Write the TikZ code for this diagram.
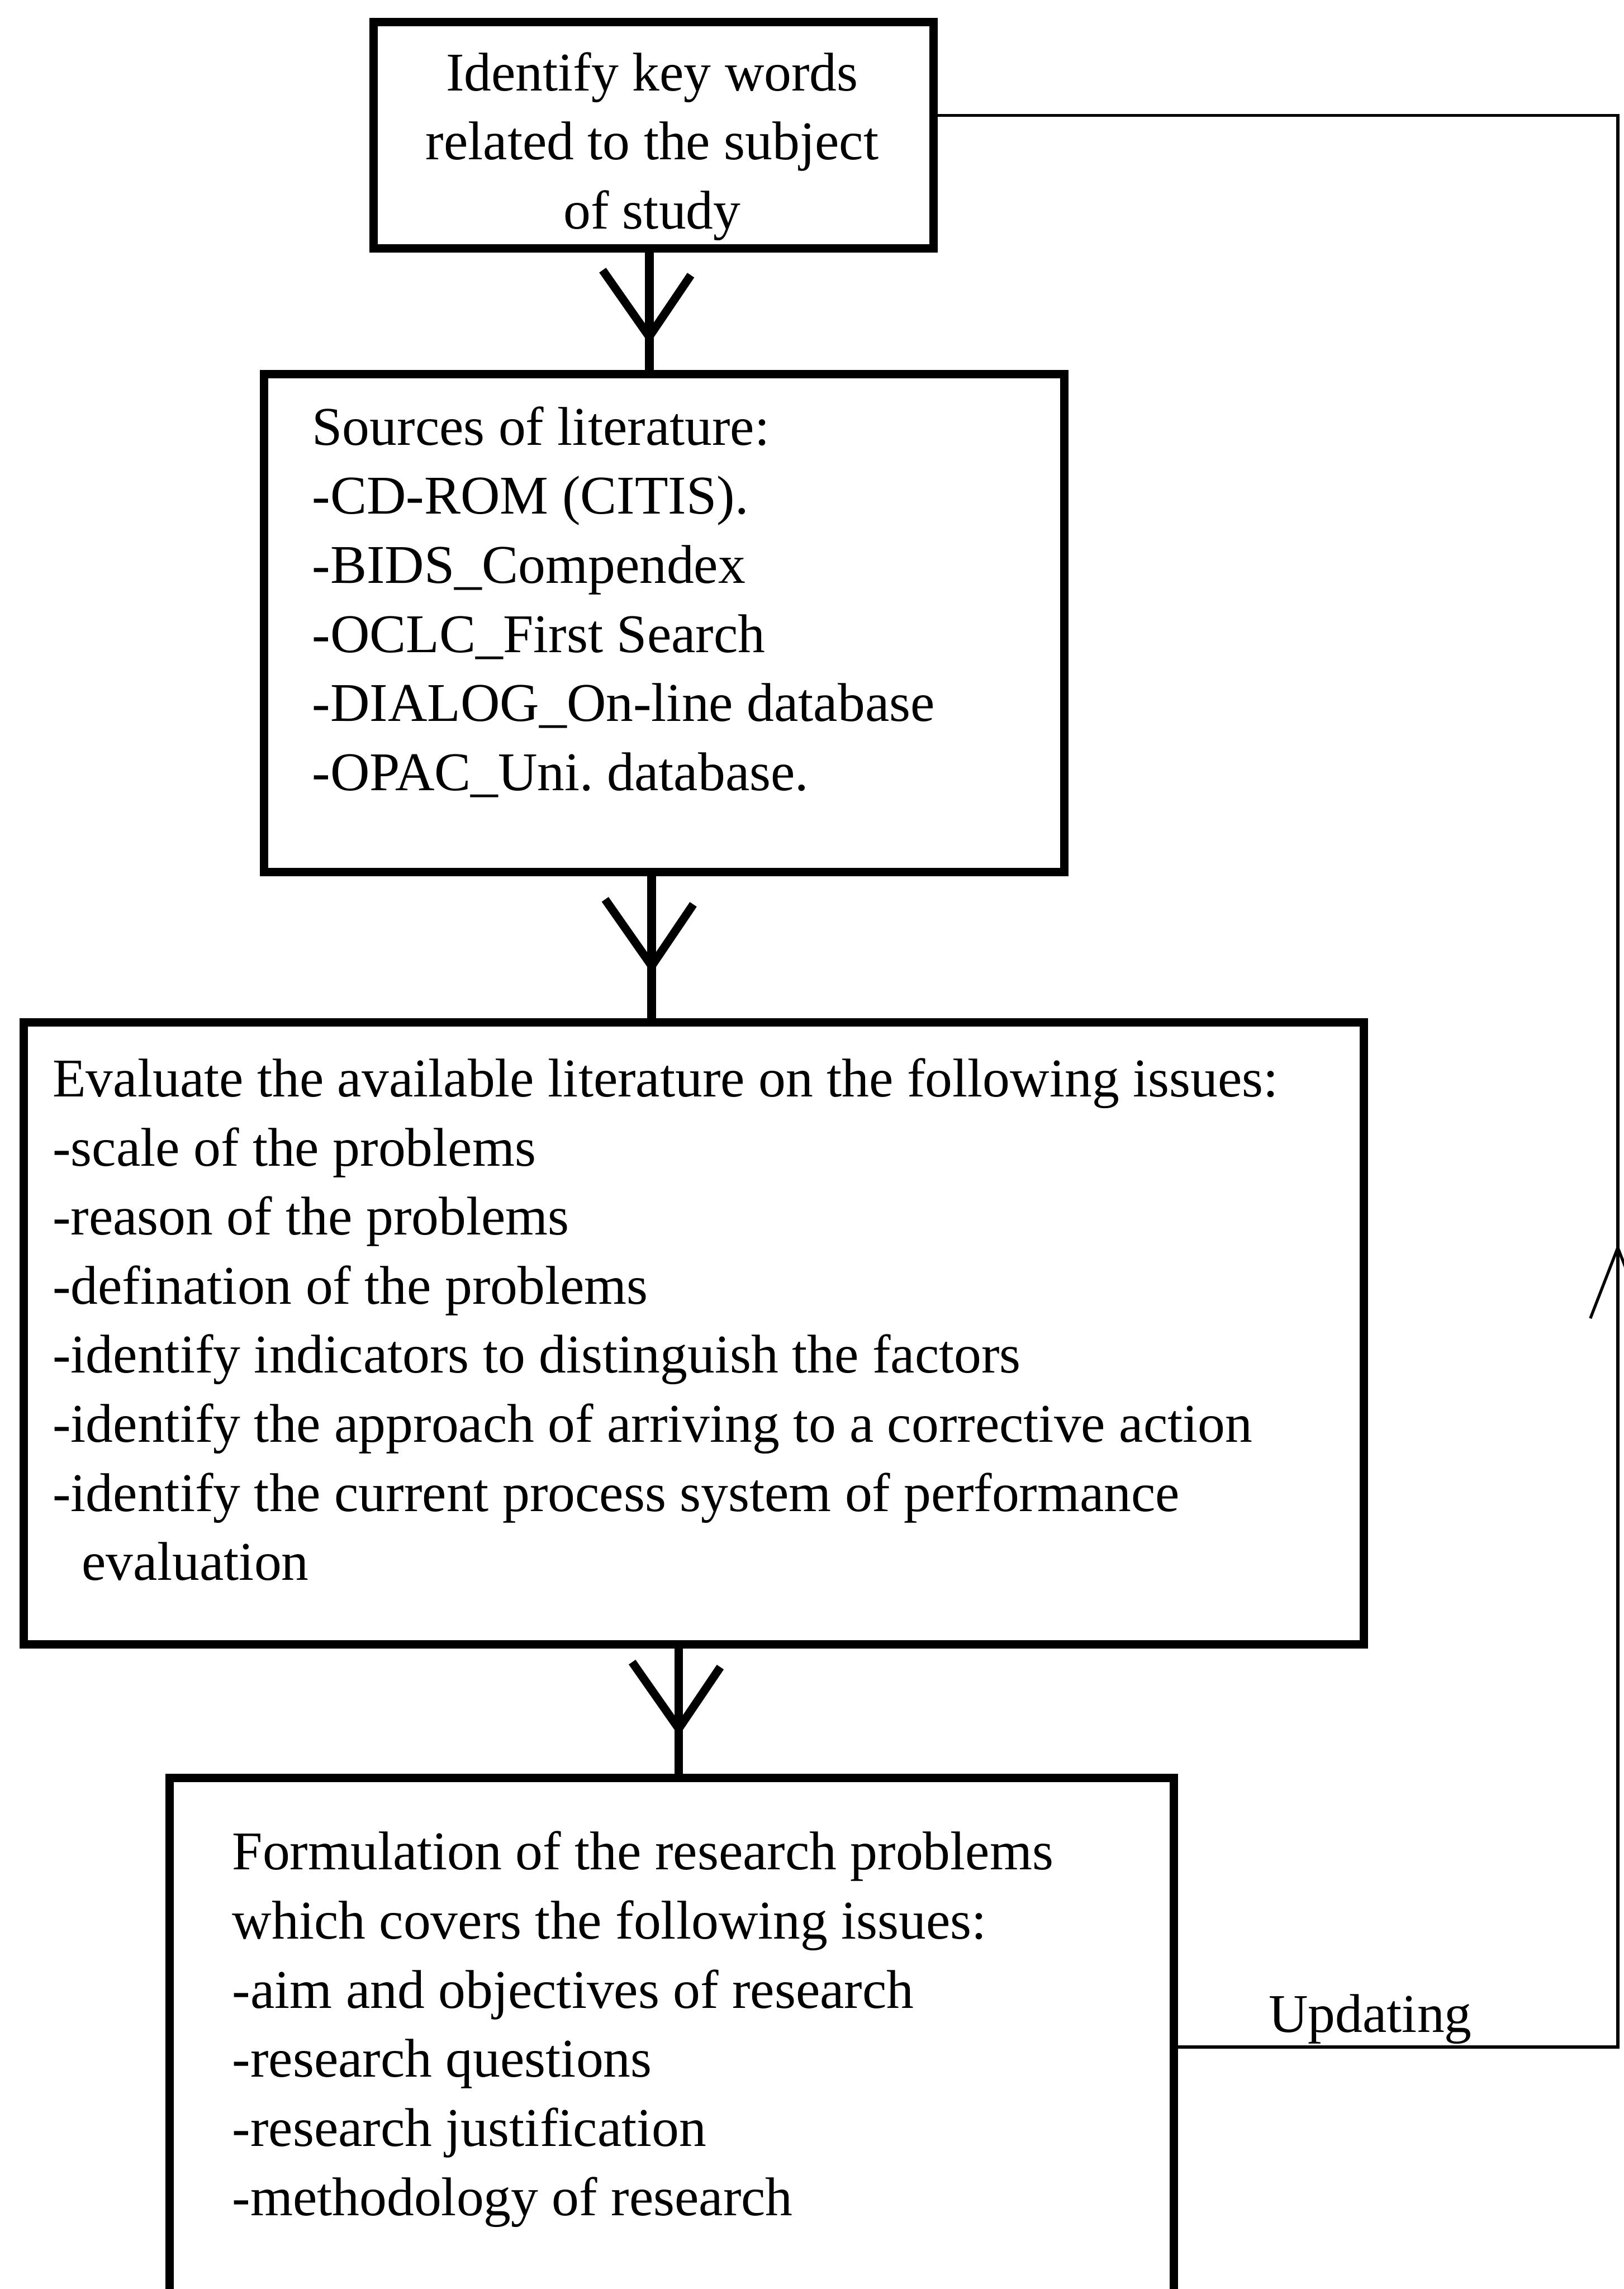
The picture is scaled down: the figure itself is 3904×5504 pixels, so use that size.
\documentclass[tikz,border=0pt]{standalone}
\usepackage{fontspec}
\setmainfont{Liberation Serif}
\usetikzlibrary{calc}
\frenchspacing

\tikzset{
  stepbox/.style={draw, line width=0.2cm, inner sep=0pt},
  bodytext/.style={inner sep=0pt, font=\fontsize{37.3pt}{47.24pt}\selectfont},
  flow/.style={line width=0.21cm},
  headline/.style={line width=0.2cm, line join=round},
  thinline/.style={line width=0.07cm},
}

% open "V" head pointing down, apex at the given coordinate
\newcommand\openhead[1]{%
  \draw[headline] ($(#1)+(-112,-160)$) -- (#1) -- ($(#1)+(100,-148)$);}

\begin{document}
\begin{tikzpicture}[x=0.01cm, y=-0.01cm]
  \useasboundingbox (0,0) rectangle (3904,5504);
  \fill[white] (0,0) rectangle (3904,5504);

  % process boxes
  \node[stepbox, minimum width=13.45cm, minimum height=5.44cm]  (b1) at (1571.5,325) {};
  \node[stepbox, minimum width=19.22cm, minimum height=11.96cm] (b2) at (1597,1498) {};
  \node[stepbox, minimum width=32.20cm, minimum height=14.94cm] (b3) at (1668,3206) {};
  \node[stepbox, minimum width=24.14cm, minimum height=14.25cm] (b4) at (1615,4987.5) {};

  % box texts
  \node[bodytext, anchor=base] (t1) at (1568,218) {\begin{tabular}[t]{@{}c@{}}
    Identify key words\\
    related to the subject\\
    of study\end{tabular}};
  \node[bodytext, anchor=base west] (t2) at (750,1070) {\begin{tabular}[t]{@{}l@{}}
    Sources of literature:\\
    -CD-ROM (CITIS).\\
    -BIDS\_Compendex\\
    -OCLC\_First Search\\
    -DIALOG\_On-line database\\
    -OPAC\_Uni. database.\end{tabular}};
  \node[bodytext, anchor=base west] (t3) at (126,2637) {\begin{tabular}[t]{@{}l@{}}
    Evaluate the available literature on the following issues:\\
    -scale of the problems\\
    -reason of the problems\\
    -defination of the problems\\
    -identify indicators to distinguish the factors\\
    -identify the approach of arriving to a corrective action\\
    -identify the current process system of performance\\
    \hspace{0.53em}evaluation\end{tabular}};
  \node[bodytext, anchor=base west] (t4) at (558,4496) {\begin{tabular}[t]{@{}l@{}}
    Formulation of the research problems\\
    which covers the following issues:\\
    -aim and objectives of research\\
    -research questions\\
    -research justification\\
    -methodology of research\end{tabular}};

  % downward connectors
  \coordinate (ax1) at (1561,0);
  \coordinate (ax2) at (1567,0);
  \coordinate (ax3) at (1632,0);
  \draw[flow] (b1.south -| ax1) -- (b2.north -| ax1);
  \draw[flow] (b2.south -| ax2) -- (b3.north -| ax2);
  \draw[flow] (b3.south -| ax3) -- (b4.north -| ax3);
  \coordinate (h1) at ($(b2.north -| ax1)+(0,-80)$);
  \coordinate (h2) at ($(b3.north -| ax2)+(0,-126)$);
  \coordinate (h3) at ($(b4.north -| ax3)+(0,-108)$);
  \openhead{h1}
  \openhead{h2}
  \openhead{h3}

  % updating loop back to the first box
  \coordinate (fbtop) at (3890,277);
  \coordinate (fbbot) at (3890,4922);
  \coordinate (fbtip) at (3890,3000);
  \draw[thinline] (b4.east |- fbbot) -- (fbbot) -- (fbtop) -- (b1.east |- fbtop);
  \draw[thinline] ($(fbtip)+(-66,170)$) -- (fbtip) -- ($(fbtip)+(66,170)$);
  \node[bodytext, anchor=base west] (upd) at (3050,4886) {Updating};
\end{tikzpicture}
\end{document}
